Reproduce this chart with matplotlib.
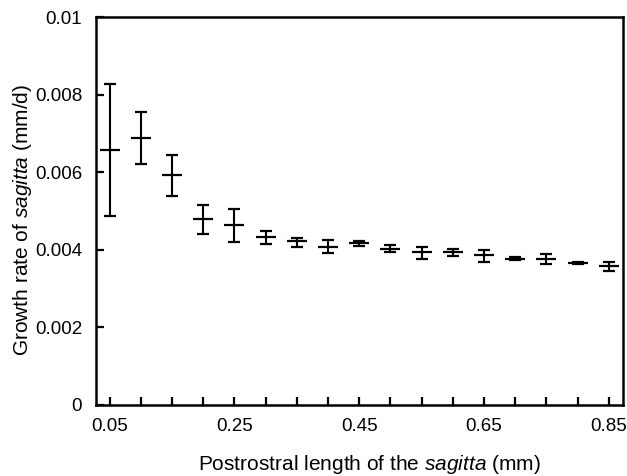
import numpy as np
import matplotlib.pyplot as plt
from matplotlib.ticker import FixedLocator

plt.rcParams['font.family'] = ['Liberation Sans', 'DejaVu Sans']
plt.rcParams['mathtext.fontset'] = 'custom'
plt.rcParams['mathtext.rm'] = 'Liberation Sans'
plt.rcParams['mathtext.it'] = 'Liberation Sans:italic'

# postrostral length (mm)
length = [0.05, 0.10, 0.15, 0.20, 0.25, 0.30, 0.35, 0.40, 0.45,
          0.50, 0.55, 0.60, 0.65, 0.70, 0.75, 0.80, 0.85]
# growth rate (mm/d), mean and bar ends
rate = [0.00656, 0.00687, 0.00592, 0.00478, 0.00463, 0.00433, 0.00421, 0.00408, 0.00417,
        0.00402, 0.00395, 0.00395, 0.00385, 0.00376, 0.00376, 0.00365, 0.00357]
upper = [0.00827, 0.00754, 0.00645, 0.00514, 0.00504, 0.00449, 0.00430, 0.00426, 0.00423,
         0.00413, 0.00407, 0.00402, 0.00400, 0.00380, 0.00388, 0.00369, 0.00368]
lower = [0.00486, 0.00621, 0.00539, 0.00440, 0.00420, 0.00415, 0.00408, 0.00390, 0.00410,
         0.00393, 0.00376, 0.00383, 0.00369, 0.00372, 0.00363, 0.00363, 0.00346]

xticks = [0.05, 0.25, 0.45, 0.65, 0.85]
xticklabels = ['0.05', '0.25', '0.45', '0.65', '0.85']
yticks = [0, 0.002, 0.004, 0.006, 0.008, 0.01]
yticklabels = ['0', '0.002', '0.004', '0.006', '0.008', '0.01']

x = np.array(length)
y = np.array(rate)
err = [y - np.array(lower), np.array(upper) - y]

fig = plt.figure(figsize=(6.27, 4.76), dpi=100)
ax = fig.add_axes([0.153, 0.150, 0.841, 0.814])

ax.errorbar(x, y, yerr=err, fmt='_', color='black', markersize=15, markeredgewidth=1.6,
            elinewidth=1.5, capsize=4.3, capthick=1.8)

ax.set_xlim(0.028, 0.873)
ax.set_ylim(0, 0.01)
ax.set_xticks(xticks)
ax.set_xticklabels(xticklabels)
ax.xaxis.set_minor_locator(FixedLocator([v for v in length if v not in xticks]))
ax.set_yticks(yticks)
ax.set_yticklabels(yticklabels)

ax.tick_params(which='both', direction='in', length=6, width=1.6, labelsize=13.5, pad=10)
for s in ax.spines.values():
    s.set_linewidth(1.8)

ax.set_xlabel(r'Postrostral length of the $\it{sagitta}$ (mm)', fontsize=15)
ax.set_ylabel(r'Growth rate of $\it{sagitta}$ (mm/d)', fontsize=15)
ax.xaxis.set_label_coords(0.518, -0.124)
ax.yaxis.set_label_coords(-0.117, 0.477)

fig.savefig('out.png', dpi=100)
